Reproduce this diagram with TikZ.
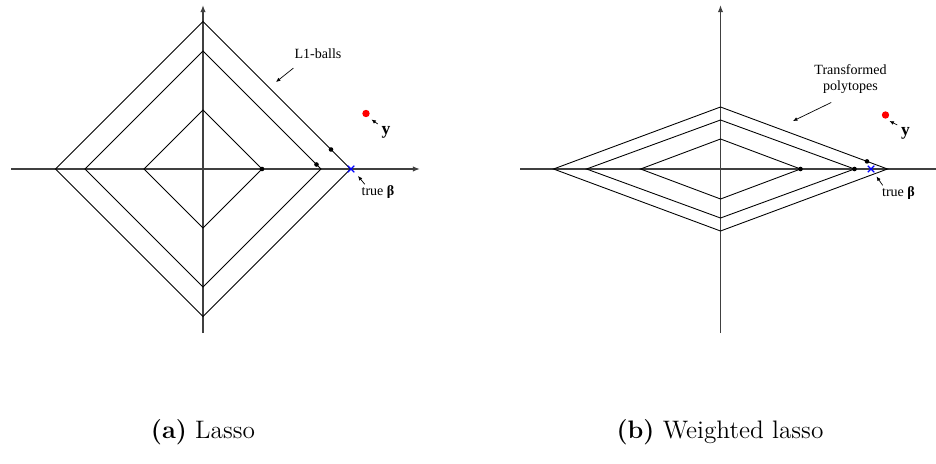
\documentclass[tikz,border=0pt]{standalone}
\usepackage{fontspec}
\usetikzlibrary{arrows.meta, shapes.misc}
\newfontfamily\timesfont{Liberation Serif}

\tikzset{
  axis/.style={line width=0.7pt, black!75},
  ball/.style={line width=0.5pt},
  pt/.style={circle, fill=black, inner sep=0pt, minimum size=2.6pt},
  obs/.style={circle, fill=red, inner sep=0pt, minimum size=4.2pt},
  truth/.style={cross out, draw=blue, line width=0.7pt, inner sep=0pt, minimum size=3pt},
  lbl/.style={font=\timesfont\fontsize{8}{9}\selectfont, inner sep=1pt, align=center},
  ylbl/.style={font=\timesfont\fontsize{10}{11}\selectfont\bfseries, inner sep=1pt},
  pointer/.style={-{Latex[length=2.5pt,width=2.2pt]}, line width=0.4pt},
  captext/.style={font=\Large}
}

\begin{document}
\begin{tikzpicture}[x=0.02cm, y=-0.02cm]
    \useasboundingbox (0,0) rectangle (936,463);

    % (a) Lasso
    \begin{scope}[shift={(203,169)}]
        \coordinate (aW) at (-192,0);
        \coordinate (aE) at (217,0);
        \coordinate (aS) at (0,164);
        \coordinate (aN) at (0,-164);
        \draw[axis, -{Latex[length=4pt,width=3pt]}] (aW) -- (aE);
        \draw[axis, -{Latex[length=4pt,width=3pt]}] (aS) -- (aN);

        \foreach \r in {59,118,147.5}
            \draw[ball] (\r,0) -- (0,\r) -- (-\r,0) -- (0,-\r) -- cycle;

        \node[pt] (a1) at (59,0) {};
        \node[pt] (a2) at (113.5,-4.5) {};
        \node[pt] (a3) at (128,-19.5) {};
        \node[truth] (abeta) at (148,0) {};
        \node[obs] (ay) at (163,-55.5) {};

        \node[ylbl] (aylab) at (183,-37) {y};
        \coordinate (ayhead) at (168.5,-49.5);
        \draw[pointer] ([shift={(-1pt,0pt)}]aylab.north west) -- (ayhead);

        \node[lbl] (ablab) at (175,23) {true {\bfseries β}};
        \coordinate (abhead) at (155,7);
        \draw[pointer] ([xshift=-7.5pt,yshift=-0.5pt]ablab.north) -- (abhead);

        \node[lbl] (aballs) at (115,-115) {L1-balls};
        \coordinate (aballhead) at (73,-87);
        \draw[pointer] ([xshift=-14pt,yshift=-4pt]aballs.south) -- (aballhead);
    \end{scope}

    % (b) Weighted lasso
    \begin{scope}[shift={(720.5,169)}]
        \coordinate (bW) at (-200.5,0);
        \coordinate (bE) at (215.5,0);
        \coordinate (bS) at (0,164);
        \coordinate (bN) at (0,-164);
        \draw[axis] (bW) -- (bE);
        \draw[axis, -{Latex[length=4pt,width=3pt]}] (bS) -- (bN);

        \foreach \rx/\ry in {80/30,134/49,167/62}
            \draw[ball] (\rx,0) -- (0,\ry) -- (-\rx,0) -- (0,-\ry) -- cycle;

        \node[pt] (b1) at (80,0) {};
        \node[pt] (b2) at (134,0) {};
        \node[pt] (b3) at (146.5,-7.6) {};
        \node[truth] (bbeta) at (150.5,0) {};
        \node[obs] (by) at (165,-54) {};

        \node[ylbl] (bylab) at (185,-36) {y};
        \coordinate (byhead) at (169,-48);
        \draw[pointer] ([shift={(-1pt,0pt)}]bylab.north west) -- (byhead);

        \node[lbl] (bblab) at (178,24) {true {\bfseries β}};
        \coordinate (bbhead) at (156,7.5);
        \draw[pointer] ([xshift=-9pt,yshift=-0.5pt]bblab.north) -- (bbhead);

        \node[lbl] (bpoly) at (130,-90) {Transformed\\polytopes};
        \coordinate (bpolyhead) at (72.5,-48);
        \draw[pointer] ([xshift=-11pt,yshift=-4pt]bpoly.south) -- (bpolyhead);
    \end{scope}

    % popisky
    \node[captext] (capa) at (203,432) {\textbf{(a)} Lasso};
    \node[captext] (capb) at (720,432) {\textbf{(b)} Weighted lasso};
\end{tikzpicture}
\end{document}
